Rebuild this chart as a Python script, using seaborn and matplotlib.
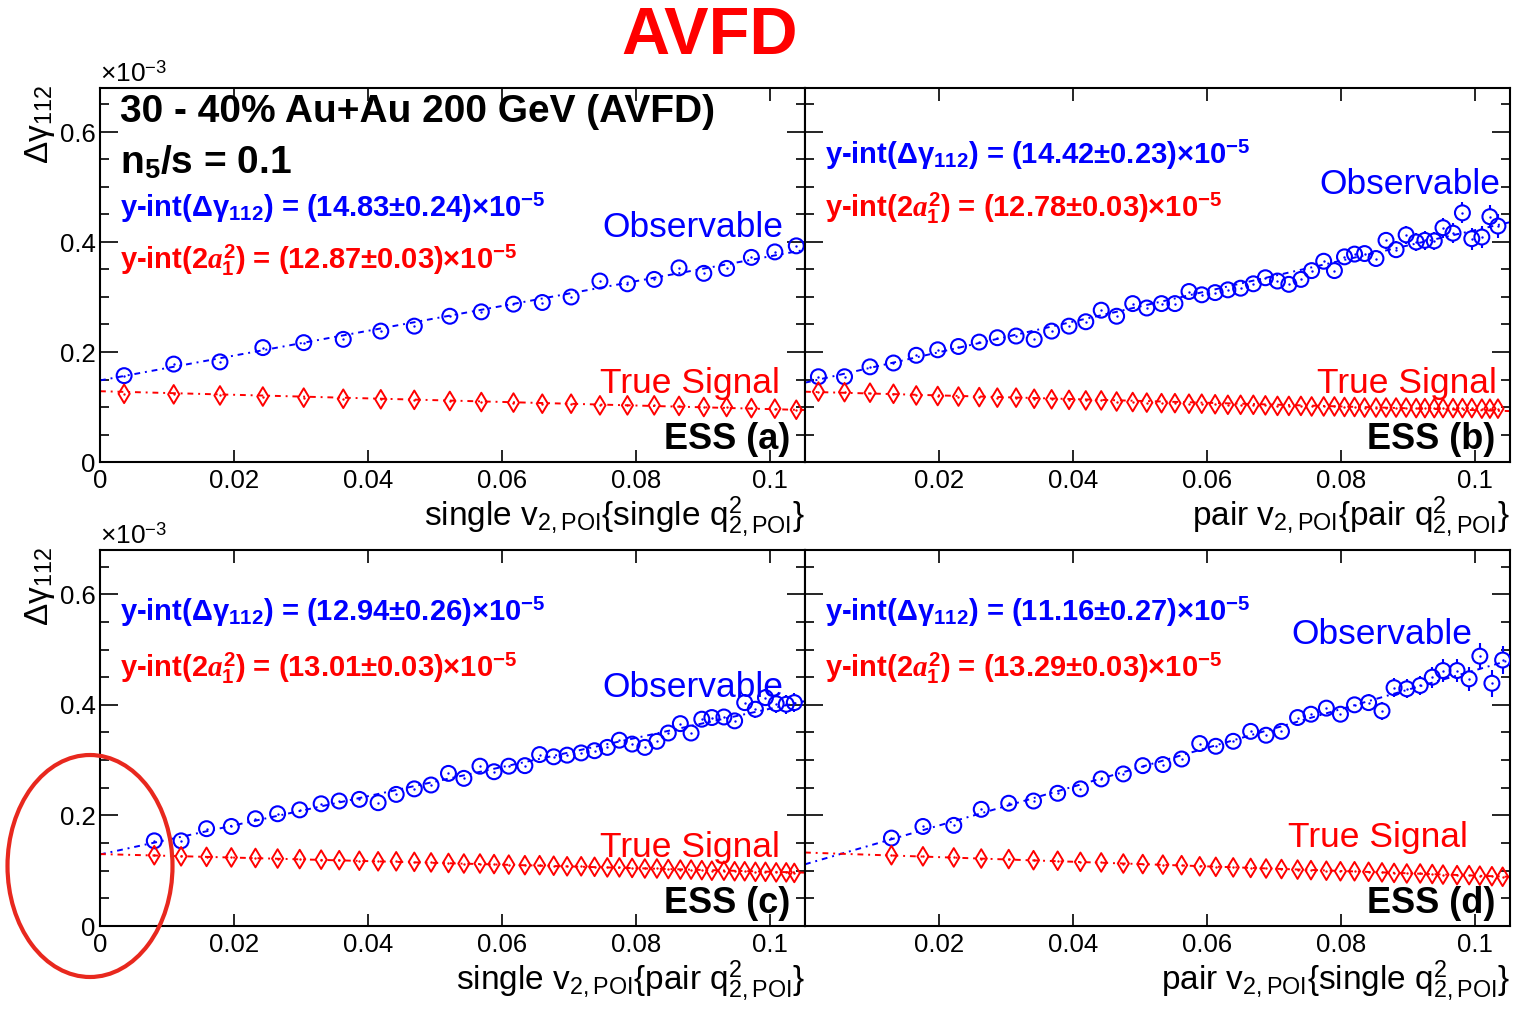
import numpy as np
import matplotlib
matplotlib.use("Agg")
import matplotlib.pyplot as plt
from matplotlib.patches import Ellipse
from matplotlib.ticker import MultipleLocator
import seaborn as sns

# Valores de Delta gamma_112 em unidades de 1e-3

# (a) single v2 {single q2}
x_a = [0.0036, 0.0110, 0.0179, 0.0243, 0.0304, 0.0363, 0.0419, 0.0469, 0.0522, 0.0569, 0.0617,
       0.0660, 0.0703, 0.0746, 0.0787, 0.0827, 0.0864, 0.0901, 0.0935, 0.0972, 0.1007, 0.1039]
obs_a = [0.157, 0.178, 0.182, 0.208, 0.217, 0.223, 0.238, 0.247, 0.265, 0.273, 0.287,
         0.290, 0.300, 0.329, 0.324, 0.332, 0.353, 0.343, 0.352, 0.372, 0.382, 0.393]
err_a = [0.003, 0.003, 0.003, 0.003, 0.003, 0.004, 0.004, 0.004, 0.004, 0.004, 0.004,
         0.004, 0.005, 0.005, 0.005, 0.005, 0.005, 0.006, 0.006, 0.006, 0.006, 0.007]
sig_a = [0.124, 0.123, 0.121, 0.119, 0.117, 0.115, 0.114, 0.113, 0.111, 0.109, 0.108,
         0.106, 0.106, 0.103, 0.103, 0.103, 0.102, 0.100, 0.100, 0.098, 0.097, 0.095]

# (b) pair v2 {pair q2}
x_b = [0.0020, 0.0059, 0.0097, 0.0132, 0.0166, 0.0198, 0.0229, 0.0260, 0.0287, 0.0315,
       0.0342, 0.0368, 0.0394, 0.0419, 0.0442, 0.0465, 0.0489, 0.0510, 0.0532, 0.0552,
       0.0573, 0.0592, 0.0612, 0.0631, 0.0650, 0.0669, 0.0687, 0.0705, 0.0722, 0.0740,
       0.0756, 0.0774, 0.0790, 0.0805, 0.0820, 0.0835, 0.0852, 0.0867, 0.0882, 0.0897,
       0.0912, 0.0925, 0.0939, 0.0952, 0.0967, 0.0981, 0.0995, 0.1010, 0.1022, 0.1034]
obs_b = [0.155, 0.155, 0.173, 0.180, 0.194, 0.204, 0.210, 0.218, 0.226, 0.229,
         0.223, 0.238, 0.247, 0.255, 0.276, 0.265, 0.288, 0.280, 0.288, 0.288,
         0.310, 0.304, 0.308, 0.313, 0.316, 0.324, 0.335, 0.329, 0.323, 0.332,
         0.348, 0.365, 0.348, 0.373, 0.378, 0.379, 0.370, 0.403, 0.386, 0.413,
         0.400, 0.403, 0.402, 0.426, 0.416, 0.453, 0.406, 0.409, 0.446, 0.429]
err_b = [0.004, 0.004, 0.004, 0.004, 0.005, 0.005, 0.005, 0.005, 0.005, 0.006,
         0.006, 0.006, 0.006, 0.006, 0.007, 0.007, 0.007, 0.007, 0.008, 0.008,
         0.008, 0.008, 0.009, 0.009, 0.009, 0.010, 0.010, 0.010, 0.011, 0.011,
         0.011, 0.012, 0.012, 0.013, 0.013, 0.014, 0.014, 0.015, 0.015, 0.016,
         0.016, 0.017, 0.017, 0.018, 0.018, 0.019, 0.020, 0.020, 0.021, 0.022]
sig_b = [0.128, 0.127, 0.126, 0.124, 0.121, 0.120, 0.119, 0.118, 0.117, 0.117,
         0.115, 0.114, 0.113, 0.112, 0.112, 0.110, 0.109, 0.108, 0.107, 0.107,
         0.106, 0.106, 0.105, 0.104, 0.104, 0.104, 0.103, 0.102, 0.102, 0.102,
         0.101, 0.101, 0.101, 0.100, 0.100, 0.099, 0.099, 0.099, 0.099, 0.099,
         0.098, 0.098, 0.098, 0.098, 0.098, 0.098, 0.098, 0.097, 0.097, 0.097]

# (c) single v2 {pair q2}
x_c = [0.0081, 0.0121, 0.0159, 0.0196, 0.0232, 0.0265, 0.0298, 0.0330, 0.0357, 0.0387,
       0.0415, 0.0442, 0.0469, 0.0494, 0.0520, 0.0543, 0.0567, 0.0588, 0.0610, 0.0634,
       0.0656, 0.0677, 0.0697, 0.0718, 0.0738, 0.0757, 0.0775, 0.0794, 0.0813, 0.0831,
       0.0848, 0.0866, 0.0882, 0.0898, 0.0913, 0.0931, 0.0947, 0.0962, 0.0978, 0.0993,
       0.1009, 0.1024, 0.1036]
obs_c = [0.154, 0.154, 0.176, 0.180, 0.194, 0.203, 0.210, 0.221, 0.226, 0.229,
         0.223, 0.238, 0.248, 0.255, 0.276, 0.267, 0.289, 0.279, 0.289, 0.290,
         0.310, 0.306, 0.309, 0.313, 0.317, 0.323, 0.336, 0.329, 0.323, 0.334,
         0.349, 0.366, 0.349, 0.374, 0.377, 0.378, 0.371, 0.404, 0.392, 0.413,
         0.402, 0.401, 0.404]
err_c = [0.004, 0.004, 0.004, 0.004, 0.005, 0.005, 0.005, 0.005, 0.005, 0.006,
         0.006, 0.006, 0.006, 0.006, 0.007, 0.007, 0.007, 0.007, 0.008, 0.008,
         0.008, 0.008, 0.009, 0.009, 0.009, 0.010, 0.010, 0.010, 0.011, 0.011,
         0.011, 0.012, 0.012, 0.013, 0.013, 0.014, 0.014, 0.015, 0.015, 0.016,
         0.016, 0.017, 0.017]
sig_c = [0.128, 0.126, 0.125, 0.124, 0.123, 0.122, 0.121, 0.120, 0.119, 0.118,
         0.117, 0.117, 0.116, 0.115, 0.114, 0.113, 0.113, 0.112, 0.111, 0.110,
         0.110, 0.109, 0.108, 0.108, 0.107, 0.106, 0.106, 0.105, 0.104, 0.104,
         0.103, 0.102, 0.102, 0.101, 0.100, 0.100, 0.099, 0.099, 0.098, 0.098,
         0.097, 0.097, 0.096]

# (d) pair v2 {single q2}
x_d = [0.0129, 0.0176, 0.0222, 0.0263, 0.0304, 0.0341, 0.0377, 0.0411, 0.0442, 0.0475,
       0.0504, 0.0534, 0.0562, 0.0589, 0.0613, 0.0639, 0.0665, 0.0688, 0.0711, 0.0735,
       0.0755, 0.0778, 0.0799, 0.0820, 0.0841, 0.0861, 0.0879, 0.0898, 0.0918, 0.0936,
       0.0952, 0.0973, 0.0991, 0.1007, 0.1025, 0.1041]
obs_d = [0.159, 0.180, 0.182, 0.211, 0.222, 0.226, 0.240, 0.248, 0.266, 0.275,
         0.290, 0.292, 0.302, 0.330, 0.325, 0.334, 0.352, 0.345, 0.352, 0.377,
         0.383, 0.394, 0.383, 0.400, 0.404, 0.389, 0.431, 0.429, 0.435, 0.450,
         0.462, 0.462, 0.447, 0.488, 0.439, 0.481]
err_d = [0.004, 0.004, 0.005, 0.005, 0.005, 0.006, 0.006, 0.006, 0.007, 0.007,
         0.007, 0.008, 0.008, 0.009, 0.009, 0.010, 0.010, 0.011, 0.011, 0.012,
         0.012, 0.013, 0.014, 0.014, 0.015, 0.016, 0.017, 0.017, 0.018, 0.019,
         0.020, 0.021, 0.022, 0.023, 0.024, 0.025]
sig_d = [0.128, 0.126, 0.124, 0.122, 0.121, 0.119, 0.118, 0.116, 0.115, 0.113,
         0.112, 0.111, 0.110, 0.108, 0.107, 0.106, 0.105, 0.104, 0.103, 0.102,
         0.101, 0.100, 0.099, 0.099, 0.098, 0.097, 0.096, 0.095, 0.095, 0.094,
         0.093, 0.092, 0.092, 0.091, 0.090, 0.089]

# interceptos dos ajustes (legendas), em 1e-3
yint_obs = [0.1483, 0.1442, 0.1294, 0.1116]
yint_sig = [0.1287, 0.1278, 0.1301, 0.1329]
txt_obs = ["(14.83±0.24)", "(14.42±0.23)", "(12.94±0.26)", "(11.16±0.27)"]
txt_sig = ["(12.87±0.03)", "(12.78±0.03)", "(13.01±0.03)", "(13.29±0.03)"]
rotulos_ess = ["ESS (a)", "ESS (b)", "ESS (c)", "ESS (d)"]
rotulos_x = [r"single v$_{\mathrm{2,POI}}${single q$^{\mathrm{2}}_{\mathrm{2,POI}}$}",
             r"pair v$_{\mathrm{2,POI}}${pair q$^{\mathrm{2}}_{\mathrm{2,POI}}$}",
             r"single v$_{\mathrm{2,POI}}${pair q$^{\mathrm{2}}_{\mathrm{2,POI}}$}",
             r"pair v$_{\mathrm{2,POI}}${single q$^{\mathrm{2}}_{\mathrm{2,POI}}$}"]
xticks = [0, 0.02, 0.04, 0.06, 0.08, 0.1]
xtick_labels = ["0", "0.02", "0.04", "0.06", "0.08", "0.1"]
yticks = [0, 0.2, 0.4, 0.6]
ytick_labels = ["0", "0.2", "0.4", "0.6"]

AZUL = "#0000ff"
VERM = "#ff0000"
XMAX = 0.1052
YMAX = 0.68
ESTILO = (0, (3, 2.5, 1, 2.5))
RAIO = 7.5 / 550  # raio do circulo em unidades de dados (~7.5 px)

sns.set_style("ticks")
plt.rcParams['font.family'] = ['Liberation Sans', 'DejaVu Sans']
plt.rcParams['text.color'] = 'black'
plt.rcParams['axes.labelcolor'] = 'black'
plt.rcParams['mathtext.fontset'] = 'custom'
plt.rcParams['mathtext.rm'] = 'Liberation Sans'
plt.rcParams['mathtext.bf'] = 'Liberation Sans:bold'
plt.rcParams['mathtext.it'] = 'Liberation Serif:italic:bold'

W, H = 1516, 1009
fig = plt.figure(figsize=(W / 100, H / 100), dpi=100)


def eixo(px0, py_top, py_bot):
    return fig.add_axes([px0 / W, (H - py_bot) / H, 705 / W, (py_bot - py_top) / H])


eixos = [eixo(100, 88, 462), eixo(805, 88, 462), eixo(100, 550, 926), eixo(805, 550, 926)]
dados = [(x_a, obs_a, err_a, sig_a), (x_b, obs_b, err_b, sig_b),
         (x_c, obs_c, err_c, sig_c), (x_d, obs_d, err_d, sig_d)]

# posicoes dos textos em fracao do eixo
pos_yint = [(0.679, 0.540), (0.821, 0.679), (0.834, 0.686), (0.834, 0.686)]
pos_obs = [(0.969, 0.626), (0.986, 0.741), (0.969, 0.633), (0.947, 0.775)]
pos_sig = [(0.965, 0.209), (0.982, 0.209), (0.965, 0.209), (0.940, 0.236)]

for i, (ax, (x, obs, err, sig)) in enumerate(zip(eixos, dados)):
    x = np.array(x)
    obs = np.array(obs)
    sig = np.array(sig)
    err = np.array(err)
    # ajuste linear com intercepto fixo (valor da legenda)
    m_obs = np.sum(x * (obs - yint_obs[i])) / np.sum(x * x)
    m_sig = np.sum(x * (sig - yint_sig[i])) / np.sum(x * x)
    xx = np.array([0, XMAX])
    sns.lineplot(x=xx, y=yint_obs[i] + m_obs * xx, ax=ax, color=AZUL, lw=1.4, linestyle=ESTILO)
    sns.lineplot(x=xx, y=yint_sig[i] + m_sig * xx, ax=ax, color=VERM, lw=1.4, linestyle=ESTILO)
    # barras de erro so fora do marcador (como no ROOT)
    fora = err > RAIO
    ax.vlines(x[fora], obs[fora] + RAIO, obs[fora] + err[fora], color=AZUL, lw=1.5)
    ax.vlines(x[fora], obs[fora] - err[fora], obs[fora] - RAIO, color=AZUL, lw=1.5)
    sns.scatterplot(x=x, y=obs, ax=ax, marker='o', s=115, facecolors='none',
                    edgecolor=AZUL, linewidth=1.5, zorder=3)
    sns.scatterplot(x=x, y=sig, ax=ax, marker='d', s=90, facecolors='none',
                    edgecolor=VERM, linewidth=1.4, zorder=3)
    sns.scatterplot(x=x, y=obs, ax=ax, marker='o', s=3, color=AZUL, linewidth=0, zorder=3)
    sns.scatterplot(x=x, y=sig, ax=ax, marker='o', s=3, color=VERM, linewidth=0, zorder=3)

    ax.set_xlim(0, XMAX)
    ax.set_ylim(0, YMAX)
    ax.set_xlabel("")
    ax.set_ylabel("")
    ax.set_xticks(xticks)
    ax.set_yticks(yticks)
    ax.yaxis.set_minor_locator(MultipleLocator(0.05))
    if i % 2 == 0:
        ax.set_xticklabels(xtick_labels)
        ax.set_yticklabels(ytick_labels)
    else:
        ax.set_xticklabels([""] + xtick_labels[1:])
        ax.set_yticklabels([])
    ax.tick_params(axis='both', which='both', direction='in', top=True, right=True,
                   labelsize=18.5, colors='black', width=1.2)
    ax.tick_params(axis='y', which='major', length=13, pad=3)
    ax.tick_params(axis='y', which='minor', length=6.5)
    ax.tick_params(axis='x', which='major', length=9, pad=5)
    for lado in ax.spines.values():
        lado.set_linewidth(1.5)
        lado.set_color('black')

    ax.text(x=1.0, y=-0.145, s=rotulos_x[i], transform=ax.transAxes, ha='right',
            va='center', fontsize=24)

    tx = 0.028
    ax.text(tx, pos_yint[i][0], r"y-int(Δγ$_{\mathbf{112}}$) = " + txt_obs[i]
            + r"×10$^{\mathbf{-5}}$", transform=ax.transAxes, color=AZUL,
            fontsize=21, weight='bold', va='center', ha='left', zorder=5)
    ax.text(tx, pos_yint[i][1], r"y-int(2$a^{\mathbf{2}}_{\mathbf{1}}$) = " + txt_sig[i]
            + r"×10$^{\mathbf{-5}}$", transform=ax.transAxes, color=VERM,
            fontsize=21, weight='bold', va='center', ha='left', zorder=5)
    ax.text(pos_obs[i][0], pos_obs[i][1], "Observable", transform=ax.transAxes, color=AZUL,
            fontsize=25.5, ha='right', va='center', zorder=5)
    ax.text(pos_sig[i][0], pos_sig[i][1], "True Signal", transform=ax.transAxes, color=VERM,
            fontsize=25.5, ha='right', va='center', zorder=5)
    ax.text(0.979, 0.06, rotulos_ess[i], transform=ax.transAxes, color='black',
            fontsize=26, weight='bold', ha='right', va='center', zorder=5)

eixos[0].text(0.028, 0.936, "30 - 40% Au+Au 200 GeV (AVFD)", transform=eixos[0].transAxes,
              fontsize=28, weight='bold', ha='left', va='center', color='black')
eixos[0].text(0.028, 0.802, r"n$_{\mathbf{5}}$/s = 0.1", transform=eixos[0].transAxes,
              fontsize=28, weight='bold', ha='left', va='center', color='black')

# rotulos do eixo y e fator de escala (estilo ROOT)
for topo in [88, 550]:
    fig.text(100 / W, 1 - (topo - 1) / H, r"×10$^{-3}$", fontsize=19,
             ha='left', va='bottom')
    fig.text(40 / W, 1 - (topo - 3) / H, r"Δγ$_{\mathrm{112}}$", fontsize=24,
             rotation=90, ha='center', va='top')

fig.text(0.468, 1 - 37 / H, "AVFD", color=VERM, fontsize=48, weight='bold',
         ha='center', va='center')

fig.add_artist(Ellipse((90 / W, 1 - 866 / H), 165 / W, 222 / H, transform=fig.transFigure,
                       fill=False, edgecolor='#e8281e', linewidth=3.0, clip_on=False))

fig.savefig("out.png", dpi=100)
